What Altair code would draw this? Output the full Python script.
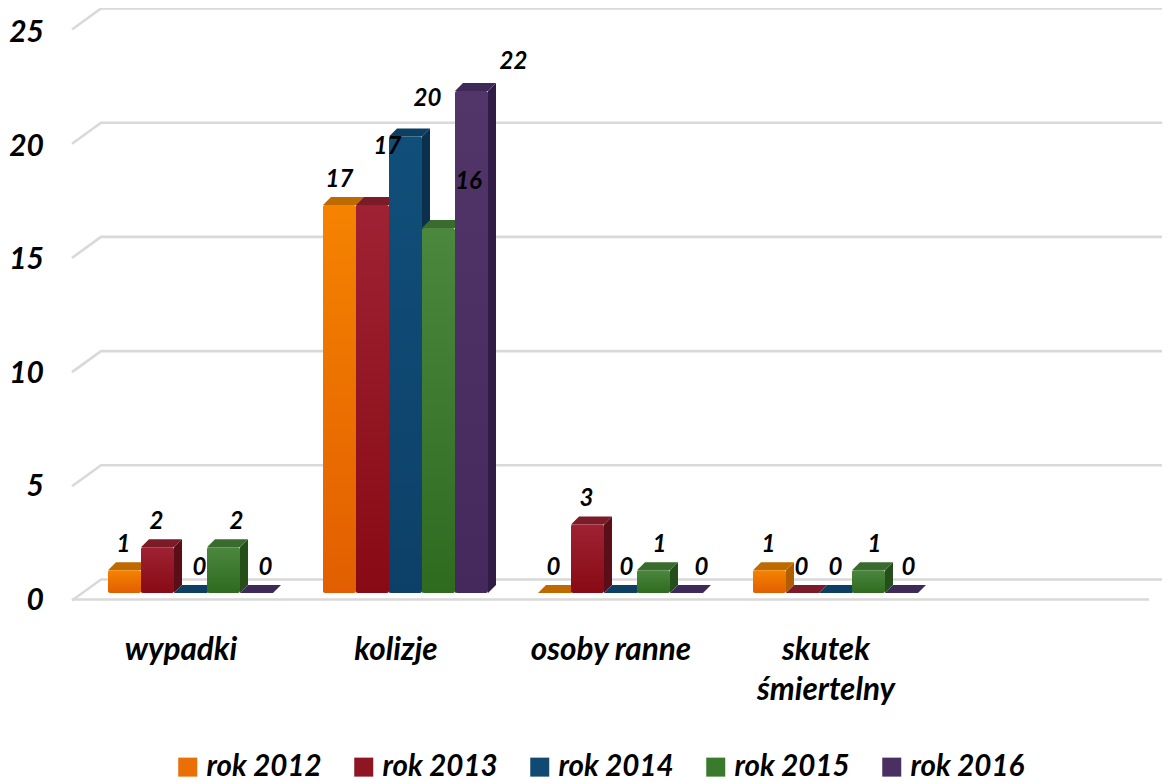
import altair as alt
import pandas as pd

# ---- values ----
categories = ["wypadki", "kolizje", "osoby ranne", "skutek\nśmiertelny"]
series = ["rok 2012", "rok 2013", "rok 2014", "rok 2015", "rok 2016"]
rok_2012 = [1, 17, 0, 1]
rok_2013 = [2, 17, 3, 0]
rok_2014 = [0, 20, 0, 0]
rok_2015 = [2, 16, 1, 1]
rok_2016 = [0, 22, 0, 0]
ticks = [0, 5, 10, 15, 20, 25]

# ---- style ----
values_by_series = [rok_2012, rok_2013, rok_2014, rok_2015, rok_2016]
front_top = ["#F58300", "#9E2233", "#104F7A", "#4C873E", "#523669"]
front_bot = ["#E25E00", "#880A14", "#0D4068", "#2E6B1F", "#46295C"]
side_col = ["#B05E00", "#5A0E18", "#0A304E", "#244E1A", "#301C44"]
top_col = ["#BE6A00", "#7A1B27", "#0D3F63", "#3A6B2E", "#3E2A58"]
legend_col = ["#E96F06", "#8E1522", "#104A72", "#3A7A2C", "#4A2F63"]
FONT = "Lato"

W, H = 1154, 782
UNIT = 22.82          # pixels per value unit
BASE = 593            # page y of the value 0 on the bars' front plane
BAR = 33
GROUP_STEP = 215
FIRST = 108
DEPTH = 8


def v_at(page_y):
    """value-scale position of a page row"""
    return (BASE - page_y) / UNIT


x_scale = alt.Scale(domain=[8, 8 + W], range=[0, W], nice=False, zero=False)
y_scale = alt.Scale(domain=[v_at(8 + H), v_at(8)], range=[H, 0], nice=False, zero=False)


def X(f):
    return alt.X(f, type="quantitative", scale=x_scale, axis=None)


def Y(f):
    return alt.Y(f, type="quantitative", scale=y_scale, axis=None)


layers = []

# ---- gridlines with their slanted walls ----
grid_rows = []
for t in ticks:
    back = t + v_at(579.5) + (t * (22.84 - UNIT) / UNIT)
    front = back - 21 / UNIT
    grid_rows += [
        {"t": t, "o": 0, "x": 72, "y": front},
        {"t": t, "o": 1, "x": 101, "y": back},
        {"t": t, "o": 2, "x": 8 + W, "y": back},
    ]
grid_rows += [
    {"t": -1, "o": 0, "x": 72, "y": v_at(599.5)},
    {"t": -1, "o": 1, "x": 1149, "y": v_at(599.5)},
]
layers.append(
    alt.Chart(pd.DataFrame(grid_rows))
    .mark_line(color="#D9D9D9", strokeWidth=2.6, interpolate="linear")
    .encode(x=X("x"), y=Y("y"), detail="t:N", order="o:Q")
)

# ---- bars ----
label_dx = [
    [-1, 0, -1, -1],
    [-1, 15, -1, -1],
    [9, 22, 6, 0],
    [13, 30, 6, 6],
    [9, 42, 15, 7],
]
label_dy = [
    [0, 3, 0, 0],
    [0, -30, 0, 0],
    [0, -9, 0, 0],
    [0, -18, 0, 0],
    [0, 0, 0, 0],
]
depth_v = DEPTH / UNIT
label_rows = []
for s, vals in enumerate(values_by_series):
    front, side, top = [], [], []
    for c, v in enumerate(vals):
        x0 = FIRST + c * GROUP_STEP + s * BAR
        x1 = x0 + BAR
        front.append({"x": x0, "x2": x1, "y": v, "y2": 0})
        side += [
            {"c": c, "x": x1, "y": v, "y2": 0},
            {"c": c, "x": x1 + DEPTH, "y": v + depth_v, "y2": depth_v},
        ]
        top += [
            {"c": c, "y": v, "x": x0, "x2": x1},
            {"c": c, "y": v + depth_v, "x": x0 + DEPTH, "x2": x1 + DEPTH},
        ]
        label_rows.append(
            {
                "x": (x0 + x1) / 2 + label_dx[s][c],
                "y": v_at(568 - 23 * v + label_dy[s][c]),
                "t": str(v),
            }
        )
    layers.append(
        alt.Chart(pd.DataFrame(side))
        .mark_area(color=side_col[s], orient="vertical")
        .encode(x=X("x"), y=Y("y"), y2="y2", detail="c:N")
    )
    layers.append(
        alt.Chart(pd.DataFrame(top))
        .mark_area(color=top_col[s], orient="horizontal")
        .encode(y=Y("y"), x=X("x"), x2="x2", detail="c:N")
    )
    layers.append(
        alt.Chart(pd.DataFrame(front))
        .mark_bar(
            cornerRadius=2,
            color=alt.Gradient(
                gradient="linear",
                x1=0, x2=0, y1=0, y2=1,
                stops=[
                    alt.GradientStop(color=front_top[s], offset=0),
                    alt.GradientStop(color=front_bot[s], offset=1),
                ],
            ),
        )
        .encode(x=X("x"), x2="x2", y=Y("y"), y2="y2")
    )

# ---- data labels ----
layers.append(
    alt.Chart(pd.DataFrame(label_rows))
    .mark_text(font=FONT, fontSize=24, fontWeight="bold", fontStyle="italic",
               color="#000000", align="center", baseline="middle")
    .encode(x=X("x"), y=Y("y"), text="t:N")
)

# ---- value-axis labels ----
tick_rows = [{"x": 44, "y": v_at(601 - 22.72 * t), "t": str(t)} for t in ticks]
layers.append(
    alt.Chart(pd.DataFrame(tick_rows))
    .mark_text(font=FONT, fontSize=30, fontWeight="bold", fontStyle="italic",
               color="#000000", align="right", baseline="middle")
    .encode(x=X("x"), y=Y("y"), text="t:N")
)

# ---- category labels ----
cat_rows = [
    {"x": FIRST + 73 + i * GROUP_STEP, "y": v_at(651), "t": c}
    for i, c in enumerate(categories)
]
layers.append(
    alt.Chart(pd.DataFrame(cat_rows))
    .mark_text(font=FONT, fontSize=31.5, fontWeight="bold", fontStyle="italic",
               color="#000000", align="center", baseline="middle",
               lineBreak="\n", lineHeight=40)
    .encode(x=X("x"), y=Y("y"), text="t:N")
)

# ---- legend ----
legend_rows = [{"x": 600, "y": v_at(400), "s": s} for s in series]
layers.append(
    alt.Chart(pd.DataFrame(legend_rows))
    .mark_square(size=0, opacity=1)
    .encode(
        x=X("x"),
        y=Y("y"),
        color=alt.Color(
            "s:N",
            scale=alt.Scale(domain=series, range=legend_col),
            legend=alt.Legend(
                orient="none",
                legendX=165,
                legendY=744,
                direction="horizontal",
                columns=5,
                title=None,
                symbolType="square",
                symbolSize=361,
                symbolOpacity=1,
                symbolStrokeWidth=0,
                labelFont=FONT,
                labelFontSize=29.5,
                labelFontWeight="bold",
                labelFontStyle="italic",
                labelColor="#000000",
                labelOffset=4,
                columnPadding=27,
                labelLimit=200,
            ),
        ),
    )
)

chart = (
    alt.layer(*layers)
    .properties(width=W, height=H, padding=0, autosize=alt.AutoSizeParams(type="none"),
                background="#FFFFFF")
    .configure_view(stroke=None)
)

chart.save("out.html", embed_options={"renderer": "svg", "actions": False})
